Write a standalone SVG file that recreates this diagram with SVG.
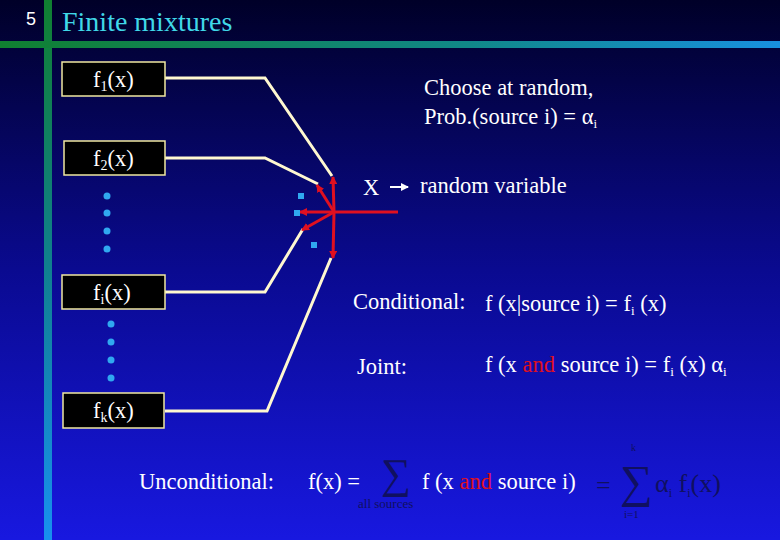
<svg xmlns="http://www.w3.org/2000/svg" width="780" height="540" viewBox="0 0 780 540">
<defs>
<linearGradient id="bg" x1="0" y1="0" x2="0" y2="1"><stop offset="0" stop-color="#000028"/><stop offset="0.5" stop-color="#0a0a90"/><stop offset="1" stop-color="#1818e0"/></linearGradient>
<linearGradient id="vb" x1="0" y1="0" x2="0" y2="1"><stop offset="0" stop-color="#108030"/><stop offset="0.5" stop-color="#108090"/><stop offset="1" stop-color="#1890f0"/></linearGradient>
<linearGradient id="hb" x1="0" y1="0" x2="1" y2="0"><stop offset="0" stop-color="#108030"/><stop offset="0.6" stop-color="#108888"/><stop offset="1" stop-color="#1890e0"/></linearGradient>
<marker id="ra" markerWidth="8" markerHeight="8" refX="7" refY="4" orient="auto" markerUnits="userSpaceOnUse"><path d="M0,0 L8,4 L0,8 z" fill="#e01020"/></marker>
<marker id="wa" markerWidth="8" markerHeight="8" refX="7" refY="4" orient="auto" markerUnits="userSpaceOnUse"><path d="M0,0 L8,4 L0,8 z" fill="#fff"/></marker>
<style>
.t{font-family:"Liberation Serif",serif;font-size:22.5px;fill:#fff}
.box{fill:#000;stroke:#f0e8a0;stroke-width:1.5}
.w{fill:none;stroke:#fff8d0;stroke-width:3}
.r{stroke:#e01020;stroke-width:3;marker-end:url(#ra)}
.d{fill:#30a8f0}
.dk{font-family:"Liberation Serif",serif;fill:#101060}
</style>
</defs>
<rect width="780" height="540" fill="url(#bg)"/>
<rect x="44" y="0" width="8" height="540" fill="url(#vb)"/>
<rect x="0" y="41" width="780" height="7" fill="url(#hb)"/>
<text x="26" y="25" style="font-family:'Liberation Sans',sans-serif;font-size:18px;fill:#fff">5</text>
<text x="62" y="31" style="font-family:'Liberation Serif',serif;font-size:28px;fill:#40d8e8">Finite mixtures</text>
<g id="connectors">
<polyline class="w" points="165,78 265,78 332,176"/>
<polyline class="w" points="165,158 265,158 318,184"/>
<polyline class="w" points="165,292 265,292 303,229"/>
<polyline class="w" points="165,411 267,411 331,258"/>
<line x1="334" y1="212" x2="398" y2="212" stroke="#e01020" stroke-width="3"/>
<line class="r" x1="334" y1="212" x2="333" y2="177"/>
<line class="r" x1="334" y1="212" x2="317" y2="185"/>
<line class="r" x1="334" y1="212" x2="300" y2="212"/>
<line class="r" x1="334" y1="212" x2="302" y2="230"/>
<line class="r" x1="334" y1="212" x2="333" y2="258"/>
<line x1="390" y1="187" x2="408" y2="187" stroke="#fff" stroke-width="2" marker-end="url(#wa)"/>
</g>
<g id="f1"><rect class="box" x="62" y="62" width="103" height="34"/><text class="t" x="93" y="87">f<tspan font-size="14" dy="4">1</tspan><tspan dy="-4">(x)</tspan></text></g>
<g id="f2"><rect class="box" x="64" y="141" width="101" height="34"/><text class="t" x="93" y="166">f<tspan font-size="14" dy="4">2</tspan><tspan dy="-4">(x)</tspan></text></g>
<g id="fi"><rect class="box" x="62" y="275" width="103" height="34"/><text class="t" x="93" y="300">f<tspan font-size="14" dy="4">i</tspan><tspan dy="-4">(x)</tspan></text></g>
<g id="fk"><rect class="box" x="63" y="393" width="101" height="35"/><text class="t" x="93" y="418">f<tspan font-size="14" dy="4">k</tspan><tspan dy="-4">(x)</tspan></text></g>
<g id="dots">
<circle class="d" cx="107" cy="196" r="3.5"/><circle class="d" cx="107" cy="213" r="3.5"/><circle class="d" cx="107" cy="231" r="3.5"/><circle class="d" cx="107" cy="249" r="3.5"/>
<circle class="d" cx="111" cy="324" r="3.5"/><circle class="d" cx="111" cy="342" r="3.5"/><circle class="d" cx="111" cy="360" r="3.5"/><circle class="d" cx="111" cy="378" r="3.5"/>
<rect class="d" x="298" y="193" width="6" height="6"/><rect class="d" x="294" y="210" width="6" height="6"/><rect class="d" x="311" y="242" width="6" height="6"/>
</g>
<text class="t" x="424" y="95">Choose at random,</text>
<text class="t" x="424" y="124">Prob.(source i) = α<tspan font-size="13" dy="4">i</tspan></text>
<text class="t" x="363" y="195">X</text>
<text class="t" x="420" y="193">random variable</text>
<text class="t" x="353" y="309">Conditional:</text>
<text class="t" x="485" y="311">f (x|source i) = f<tspan font-size="13" dy="4">i</tspan><tspan dy="-4"> (x)</tspan></text>
<text class="t" x="357" y="374">Joint:</text>
<text class="t" x="485" y="372">f (x <tspan fill="#e01020">and</tspan> source i) = f<tspan font-size="13" dy="4">i</tspan><tspan dy="-4"> (x) α</tspan><tspan font-size="13" dy="4">i</tspan></text>
<text class="t" x="139" y="489">Unconditional:</text>
<text class="t" x="308" y="489">f(x) =</text>
<text class="dk" x="381" y="488" font-size="42">∑</text>
<text class="dk" x="358" y="508" font-size="13">all sources</text>
<text class="t" x="422" y="489">f (x <tspan fill="#e01020">and</tspan> source i)</text>
<text class="dk" x="596" y="494" font-size="26">=</text>
<text class="dk" x="620" y="497" font-size="46">∑</text>
<text class="dk" x="631" y="451" font-size="10">k</text>
<text class="dk" x="624" y="518" font-size="11">i=1</text>
<text class="dk" x="655" y="492" font-size="26">α<tspan font-size="12" dy="5">i</tspan><tspan dy="-5"> f</tspan><tspan font-size="12" dy="5">i</tspan><tspan dy="-5">(x)</tspan></text>
</svg>
